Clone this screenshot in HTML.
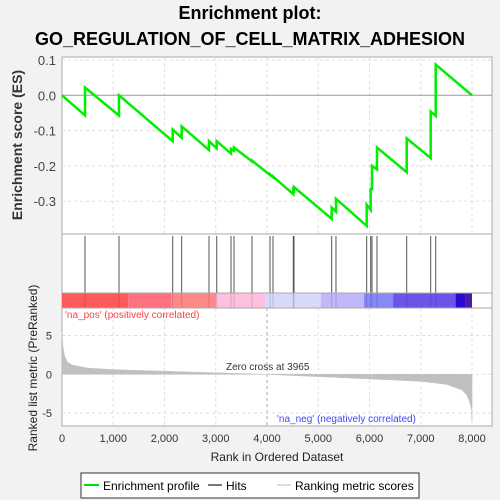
<!DOCTYPE html>
<html><head><meta charset="utf-8"><style>
html,body{margin:0;padding:0;background:#f2f2f2;}
svg{display:block;font-family:"Liberation Sans",sans-serif;}
</style></head><body>
<svg id="chart" width="500" height="500" viewBox="0 0 500 500">
<text x="250" y="19" text-anchor="middle" font-size="18" font-weight="bold">Enrichment plot:</text>
<text x="250" y="45" text-anchor="middle" font-size="18" font-weight="bold" textLength="430">GO_REGULATION_OF_CELL_MATRIX_ADHESION</text>
<rect x="62" y="57" width="430" height="369" fill="#fff" stroke="#aaa"/>
<g id="grid"></g>
<g id="es-panel"></g>
<g id="hits-panel"></g>
<g id="bar-panel"></g>
<g id="metric-panel"></g>
<g id="axes"></g>
<text x="22" y="145" text-anchor="middle" font-size="14" font-weight="bold" fill="#333" transform="rotate(-90 22 145)">Enrichment score (ES)</text>
<text x="37" y="368" text-anchor="middle" font-size="12" fill="#222" transform="rotate(-90 37 368)">Ranked list metric (PreRanked)</text>
<text x="277" y="461" text-anchor="middle" font-size="12" fill="#222">Rank in Ordered Dataset</text>
<text x="65" y="318" font-size="10" fill="#ff4040">'na_pos' (positively correlated)</text>
<text x="277" y="422" font-size="10" fill="#4444ff">'na_neg' (negatively correlated)</text>
<text x="226" y="370" font-size="10" fill="#333">Zero cross at 3965</text>
<g>
<rect x="81" y="473" width="338" height="25" fill="#fff" stroke="#333"/>
<line x1="84" y1="485" x2="99" y2="485" stroke="#00e000" stroke-width="2"/>
<text x="103" y="490" font-size="12">Enrichment profile</text>
<line x1="208" y1="485" x2="222" y2="485" stroke="#777" stroke-width="2"/>
<text x="226" y="490" font-size="12">Hits</text>
<line x1="277" y1="485" x2="291" y2="485" stroke="#ddd" stroke-width="2"/>
<text x="295" y="490" font-size="12">Ranking metric scores</text>
</g>
</svg>
<script>
const hitRanks=[449,1112,2160,2335,2868,3019,3298,3356,3707,4059,4117,4513,4527,5262,5346,5945,6023,6049,6146,6726,7194,7292];
const esBefore=[-0.057,-0.057,-0.13,-0.12,-0.155,-0.15,-0.165,-0.157,-0.187,-0.226,-0.232,-0.28,-0.27,-0.35,-0.33,-0.37,-0.325,-0.265,-0.21,-0.218,-0.178,-0.058];
const esAfter=[0.022,0,-0.097,-0.088,-0.13,-0.13,-0.152,-0.148,-0.185,-0.224,-0.23,-0.268,-0.26,-0.318,-0.293,-0.31,-0.265,-0.2,-0.148,-0.122,-0.046,0.087];
const totalRanks=8000;
const metricRanks=[0,20,50,100,200,500,1000,2000,3000,3965,5000,6000,7000,7500,7800,7900,7950,7990,8000];
const metricValues=[5.5,3.5,2.4,1.6,1.2,0.8,0.6,0.4,0.2,0,-0.3,-0.6,-0.9,-1.3,-2,-2.7,-3.5,-4.5,-6];
const xTicks=[0,1000,2000,3000,4000,5000,6000,7000,8000];
const esTicks=[0.1,0,-0.1,-0.2,-0.3];
const metricTicks=[5,0,-5];
const barColors=['#ff5a5a','#ff7080','#ff8888','#ffc0e0','#d8d8fa','#c0b8f8','#8888f8','#6a55e8','#2a0acc','#4a1aa8'];
const barStarts=[0,1290,2130,3010,3960,5050,5890,6460,7680,7880];
const NS='http://www.w3.org/2000/svg';
const xS=r=>62+r*(410/totalRanks);
const yES=v=>95.3-v*353;
const yM=v=>374.3-v*7.75;
function mk(tag,attrs,parent){const e=document.createElementNS(NS,tag);for(const k in attrs)e.setAttribute(k,attrs[k]);document.getElementById(parent).appendChild(e);return e;}
// grid
xTicks.forEach(t=>{if(t===0)return;
 let g=mk('line',{x1:xS(t),x2:xS(t),y1:57,y2:234,stroke:'#ddd','stroke-dasharray':'3,3'},'grid');
 
 
 let g2=mk('line',{x1:xS(t),x2:xS(t),y1:308,y2:426,stroke:t===4000?'#aaa':'#ddd','stroke-dasharray':'3,3'},'grid');
 
 
});
esTicks.forEach(t=>{
 let g=mk('line',{x1:62,x2:492,y1:yES(t),y2:yES(t),stroke:t===0?'#999':'#ddd','stroke-dasharray':t===0?'':'3,3'},'grid');
 
 
 let tx=mk('text',{x:56,y:yES(t)+5,'text-anchor':'end','font-size':'13',fill:'#444'},'axes');
 tx.textContent=t===0?'0.0':t.toFixed(1);
 
 
});
metricTicks.forEach(t=>{
 let g=mk('line',{x1:62,x2:492,y1:yM(t),y2:yM(t),stroke:'#ddd','stroke-dasharray':'3,3'},'grid');
 
 
 let tx=mk('text',{x:52,y:yM(t)+4,'text-anchor':'end','font-size':'11',fill:'#333'},'axes');
 tx.textContent=String(t);
 
 
});
xTicks.forEach(t=>{
 let tx=mk('text',{x:xS(t),y:442,'text-anchor':'middle','font-size':'11',fill:'#333'},'axes');
 tx.textContent=t.toLocaleString('en-US');
 
 
});
// panel separators
[234,293,308].forEach(y=>{let l=mk('line',{x1:62,x2:492,y1:y,y2:y,stroke:'#aaa'},'axes');
 
 });
// ES line
let pts=[[xS(0),yES(0)]];
hitRanks.forEach((r,i)=>{pts.push([xS(r),yES(esBefore[i])]);pts.push([xS(r),yES(esAfter[i])]);});
pts.push([xS(totalRanks),yES(0)]);
let es=mk('polyline',{points:pts.map(p=>p.join(',')).join(' '),fill:'none',stroke:'#00ee00','stroke-width':'2.5'},'es-panel');


// hits
hitRanks.forEach(r=>{let l=mk('line',{x1:xS(r),x2:xS(r),y1:236,y2:293,stroke:'#555','stroke-width':'1'},'hits-panel');
 
 });
// color bar
barStarts.forEach((s,i)=>{const e=i<barStarts.length-1?barStarts[i+1]:totalRanks;
 let r=mk('rect',{x:xS(s),y:293,width:xS(e)-xS(s),height:15,fill:barColors[i]},'bar-panel');
 
 });
hitRanks.forEach(r=>{let l=mk('line',{x1:xS(r),x2:xS(r),y1:293,y2:308,stroke:'rgba(0,0,0,0.15)'},'bar-panel');
 
 });
// metric area
let d='M'+xS(0)+','+yM(0);
metricRanks.forEach((r,i)=>{d+=' L'+xS(r)+','+yM(metricValues[i]);});
d+=' L'+xS(totalRanks)+','+yM(0)+' Z';
let a=mk('path',{d:d,fill:'#c0c0c0',stroke:'#c0c0c0','stroke-width':'0.5'},'metric-panel');


</script>
</body></html>
